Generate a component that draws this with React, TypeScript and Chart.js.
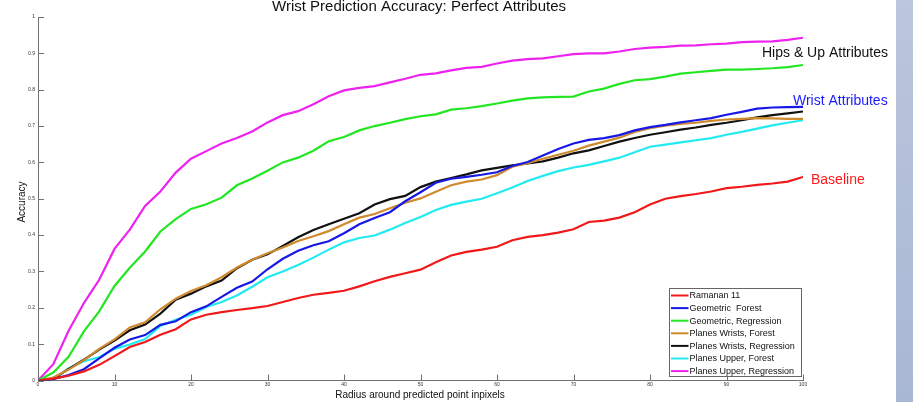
import React, { useEffect, useRef } from "react";
import { Chart, registerables } from "chart.js";

Chart.register(...registerables);

const xValues = [0, 2, 4, 6, 8, 10, 12, 14, 16, 18, 20, 22, 24, 26, 28, 30, 32, 34, 36, 38, 40, 42, 44, 46, 48, 50, 52, 54, 56, 58, 60, 62, 64, 66, 68, 70, 72, 74, 76, 78, 80, 82, 84, 86, 88, 90, 92, 94, 96, 98, 100];

const ramanan11 = [0, 0.005, 0.013, 0.025, 0.043, 0.067, 0.092, 0.106, 0.126, 0.141, 0.168, 0.181, 0.188, 0.194, 0.199, 0.205, 0.216, 0.227, 0.236, 0.241, 0.247, 0.259, 0.273, 0.285, 0.295, 0.305, 0.325, 0.344, 0.354, 0.36, 0.368, 0.386, 0.395, 0.4, 0.407, 0.416, 0.436, 0.44, 0.448, 0.463, 0.484, 0.5, 0.507, 0.513, 0.52, 0.529, 0.533, 0.538, 0.542, 0.547, 0.56];
const geometricForest = [0, 0.004, 0.015, 0.031, 0.061, 0.09, 0.113, 0.125, 0.153, 0.163, 0.188, 0.204, 0.23, 0.255, 0.272, 0.306, 0.335, 0.357, 0.372, 0.383, 0.405, 0.43, 0.447, 0.463, 0.493, 0.518, 0.544, 0.555, 0.56, 0.566, 0.573, 0.59, 0.601, 0.619, 0.637, 0.652, 0.662, 0.667, 0.675, 0.688, 0.697, 0.703, 0.71, 0.716, 0.722, 0.731, 0.739, 0.748, 0.751, 0.752, 0.753];
const geometricRegression = [0, 0.022, 0.065, 0.135, 0.19, 0.26, 0.31, 0.355, 0.41, 0.444, 0.472, 0.485, 0.503, 0.537, 0.556, 0.577, 0.6, 0.613, 0.632, 0.658, 0.67, 0.688, 0.7, 0.709, 0.719, 0.727, 0.732, 0.745, 0.749, 0.755, 0.762, 0.77, 0.776, 0.779, 0.78, 0.781, 0.795, 0.803, 0.816, 0.826, 0.829, 0.836, 0.844, 0.848, 0.852, 0.855, 0.855, 0.857, 0.859, 0.862, 0.868];
const planesWristsForest = [0, 0.008, 0.03, 0.056, 0.087, 0.113, 0.146, 0.16, 0.196, 0.225, 0.246, 0.262, 0.284, 0.311, 0.332, 0.35, 0.366, 0.384, 0.397, 0.411, 0.43, 0.448, 0.458, 0.474, 0.489, 0.501, 0.519, 0.537, 0.547, 0.553, 0.565, 0.588, 0.598, 0.61, 0.621, 0.632, 0.646, 0.657, 0.668, 0.684, 0.694, 0.701, 0.706, 0.709, 0.714, 0.718, 0.72, 0.722, 0.721, 0.72, 0.72];
const planesWristsRegression = [0, 0.004, 0.032, 0.057, 0.085, 0.11, 0.138, 0.154, 0.184, 0.222, 0.239, 0.259, 0.275, 0.309, 0.332, 0.347, 0.37, 0.394, 0.414, 0.43, 0.445, 0.46, 0.484, 0.499, 0.508, 0.532, 0.547, 0.557, 0.567, 0.578, 0.585, 0.592, 0.597, 0.603, 0.613, 0.625, 0.633, 0.645, 0.657, 0.667, 0.676, 0.683, 0.69, 0.696, 0.703, 0.709, 0.716, 0.724, 0.73, 0.735, 0.74];
const planesUpperForest = [0, 0.004, 0.033, 0.053, 0.064, 0.087, 0.099, 0.114, 0.15, 0.167, 0.181, 0.202, 0.216, 0.234, 0.258, 0.284, 0.3, 0.318, 0.338, 0.36, 0.38, 0.392, 0.399, 0.415, 0.433, 0.45, 0.469, 0.483, 0.492, 0.5, 0.515, 0.531, 0.549, 0.563, 0.576, 0.586, 0.593, 0.603, 0.613, 0.628, 0.643, 0.649, 0.655, 0.661, 0.667, 0.676, 0.684, 0.693, 0.702, 0.709, 0.716];
const planesUpperRegression = [0, 0.045, 0.137, 0.213, 0.277, 0.362, 0.415, 0.48, 0.52, 0.572, 0.61, 0.631, 0.652, 0.667, 0.685, 0.71, 0.73, 0.741, 0.76, 0.782, 0.798, 0.805, 0.81, 0.82, 0.83, 0.841, 0.845, 0.853, 0.86, 0.863, 0.872, 0.88, 0.884, 0.886, 0.892, 0.898, 0.9, 0.9, 0.905, 0.912, 0.916, 0.918, 0.921, 0.922, 0.925, 0.927, 0.931, 0.932, 0.933, 0.937, 0.943];

const seriesNames = [
  "Ramanan 11",
  "Geometric  Forest",
  "Geometric, Regression",
  "Planes Wrists, Forest",
  "Planes Wrists, Regression",
  "Planes Upper, Forest",
  "Planes Upper, Regression",
];
const seriesValues = [
  ramanan11,
  geometricForest,
  geometricRegression,
  planesWristsForest,
  planesWristsRegression,
  planesUpperForest,
  planesUpperRegression,
];
const seriesColors = ["#f01818", "#1818e6", "#22e622", "#d08a2e", "#111111", "#22eaf0", "#ee22ee"];

const xTicks = [0, 10, 20, 30, 40, 50, 60, 70, 80, 90, 100];
const yTicks = [0, 0.1, 0.2, 0.3, 0.4, 0.5, 0.6, 0.7, 0.8, 0.9, 1];

const titleText = "Wrist Prediction Accuracy: Perfect Attributes";
const xTitle = "Radius around predicted point inpixels";
const yTitle = "Accuracy";
const annotations = [
  { text: "Hips & Up Attributes", color: "#111111", x: 762, y: 57 },
  { text: "Wrist Attributes", color: "#1a1aff", x: 793, y: 104.5 },
  { text: "Baseline", color: "#ff1a1a", x: 811, y: 183.5 },
];

const FONT = '"Liberation Sans", Arial, Helvetica, sans-serif';

const decorPlugin = {
  id: "decor",
  beforeDraw(chart: any) {
    const ctx = chart.ctx;
    ctx.save();
    ctx.fillStyle = "#ffffff";
    ctx.fillRect(0, 0, chart.width, chart.height);
    const g = ctx.createLinearGradient(0, 0, 0, chart.height);
    g.addColorStop(0, "#bcc6dc");
    g.addColorStop(1, "#a8b7d4");
    ctx.fillStyle = g;
    ctx.fillRect(896, 0, chart.width - 896, chart.height);
    ctx.restore();
  },
  afterDraw(chart: any) {
    const ctx = chart.ctx;
    const area = chart.chartArea;
    const xs = chart.scales.x;
    const ys = chart.scales.y;
    ctx.save();
    // inward ticks
    ctx.strokeStyle = "#707070";
    ctx.lineWidth = 1;
    ctx.beginPath();
    yTicks.forEach((v) => {
      const py = Math.round(ys.getPixelForValue(v)) + 0.5;
      ctx.moveTo(area.left, py);
      ctx.lineTo(area.left + 6, py);
    });
    xTicks.forEach((v) => {
      const px = Math.round(xs.getPixelForValue(v)) + 0.5;
      ctx.moveTo(px, area.bottom);
      ctx.lineTo(px, area.bottom - 6);
    });
    ctx.stroke();

    // title
    ctx.fillStyle = "#111111";
    ctx.font = `15px ${FONT}`;
    ctx.textAlign = "center";
    ctx.textBaseline = "alphabetic";
    ctx.fillText(titleText, 419, 11);

    // axis titles
    ctx.font = `10px ${FONT}`;
    ctx.fillText(xTitle, 420, 398);
    ctx.save();
    ctx.translate(24.5, 202);
    ctx.rotate(-Math.PI / 2);
    ctx.fillText(yTitle, 0, 0);
    ctx.restore();

    // annotations
    ctx.font = `14px ${FONT}`;
    ctx.textAlign = "left";
    annotations.forEach((a) => {
      ctx.fillStyle = a.color;
      ctx.fillText(a.text, a.x, a.y);
    });

    // legend
    const lx = 669.5, ly = 288.5, lw = 132, lh = 88;
    ctx.fillStyle = "#ffffff";
    ctx.fillRect(lx, ly, lw, lh);
    ctx.strokeStyle = "#666666";
    ctx.lineWidth = 1;
    ctx.strokeRect(lx, ly, lw, lh);
    ctx.font = `9px ${FONT}`;
    ctx.textBaseline = "middle";
    seriesNames.forEach((name, i) => {
      const cy = 295.5 + i * 12.6;
      ctx.strokeStyle = seriesColors[i];
      ctx.lineWidth = 2;
      ctx.beginPath();
      ctx.moveTo(671, cy);
      ctx.lineTo(688.5, cy);
      ctx.stroke();
      ctx.fillStyle = "#111111";
      ctx.fillText(name, 689.5, cy + 0.5);
    });
    ctx.restore();
  },
};

export default function App() {
  const ref = useRef<HTMLCanvasElement | null>(null);
  useEffect(() => {
    if (!ref.current) return;
    const chart = new Chart(ref.current, {
      type: "line",
      data: {
        datasets: seriesNames.map((name, i) => ({
          label: name,
          data: xValues.map((x, j) => ({ x, y: seriesValues[i][j] })),
          borderColor: seriesColors[i],
          backgroundColor: seriesColors[i],
          borderWidth: 2.2,
          pointRadius: 0,
          tension: 0,
          fill: false,
        })),
      },
      options: {
        animation: false,
        responsive: false,
        devicePixelRatio: 1,
        layout: { padding: { left: 0, top: 17, right: 110, bottom: 0 } },
        plugins: {
          legend: { display: false },
          title: { display: false },
          tooltip: { enabled: false },
        },
        scales: {
          x: {
            type: "linear",
            min: 0,
            max: 100,
            afterFit: (s: any) => {
              s.height = 21.5;
            },
            afterBuildTicks: (s: any) => {
              s.ticks = xTicks.map((v) => ({ value: v }));
            },
            grid: { display: false, drawTicks: false },
            border: { display: true, color: "#707070", width: 1 },
            ticks: {
              font: { size: 5, family: FONT },
              color: "#333333",
              padding: 1,
              maxRotation: 0,
              autoSkip: false,
              callback: (v: any) => String(v),
            },
          },
          y: {
            type: "linear",
            min: 0,
            max: 1,
            afterFit: (s: any) => {
              s.width = 38;
            },
            afterBuildTicks: (s: any) => {
              s.ticks = yTicks.map((v) => ({ value: v }));
            },
            grid: { display: false, drawTicks: false },
            border: { display: true, color: "#707070", width: 1 },
            ticks: {
              font: { size: 5, family: FONT },
              color: "#333333",
              padding: 3,
              autoSkip: false,
              callback: (v: any) => String(Number(Number(v).toFixed(1))),
            },
          },
        },
      },
      plugins: [decorPlugin],
    });
    return () => chart.destroy();
  }, []);
  return (
    <div style={{ position: "fixed", left: 0, top: 0, width: 913, height: 402, background: "#fff" }}>
      <canvas ref={ref} width={913} height={402} style={{ width: 913, height: 402, display: "block" }} />
    </div>
  );
}
